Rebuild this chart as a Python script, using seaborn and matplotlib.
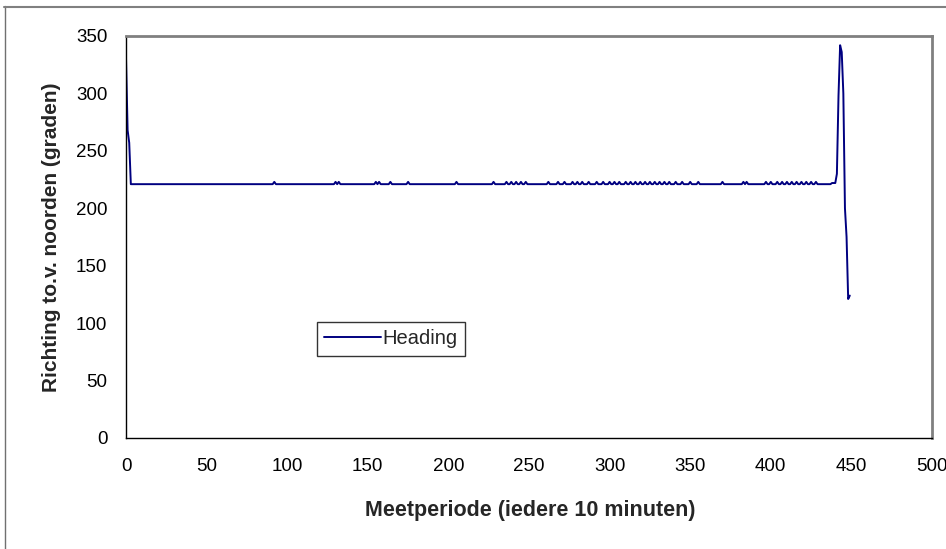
import matplotlib
matplotlib.use("Agg")
import matplotlib.pyplot as plt
import seaborn as sns
import pandas as pd
from matplotlib.lines import Line2D

# Vertices of the Heading line (Meetperiode index, heading in degrees)
start_x = [0, 1, 2, 3]
start_y = [331, 268, 257, 221]

# positions where heading briefly rises to ~223 above the 221 baseline
blip_x = [92, 130, 132, 155, 157, 164, 175, 205, 228, 236, 239, 242, 245, 248,
          262, 268, 272, 277, 280, 283, 287, 292, 296, 300, 303, 306, 310, 313,
          316, 319, 322, 325, 328, 331, 334, 337, 341, 345, 350, 355, 370, 383,
          385, 397, 400, 404, 407, 410, 413, 416, 419, 422, 425, 428]
baseline = 221
blip_value = 223

end_x = [437, 438, 440, 441, 442, 443, 444, 445, 446, 447, 448, 449]
end_y = [221, 222, 222, 230, 298, 342, 336, 300, 200, 175, 121, 124]

xs, ys = list(start_x), list(start_y)
for b in blip_x:
    xs += [b - 1, b, b + 1]
    ys += [baseline, blip_value, baseline]
xs += end_x
ys += end_y
df = pd.DataFrame({"Meetperiode": xs, "Heading": ys}).sort_values("Meetperiode", kind="stable")

sns.set_theme(style="white")
plt.rcParams["font.family"] = ["Liberation Sans", "DejaVu Sans"]

fig = plt.figure(figsize=(9.46, 5.49), dpi=100)
ax = fig.add_axes([126 / 946, 1 - 438 / 549, (932 - 126) / 946, (438 - 36) / 549])

sns.lineplot(data=df, x="Meetperiode", y="Heading", ax=ax, color="#000080",
             linewidth=1.4, label="Heading", sort=False, estimator=None)

ax.set_xlim(0, 500)
ax.set_ylim(0, 350)
ax.set_xticks(range(0, 501, 50))
ax.set_yticks(range(0, 351, 50))
ax.tick_params(axis="both", direction="inout", length=9, width=1, color="black",
               labelsize=13.5, labelcolor="black")
ax.tick_params(axis="x", pad=10)
ax.tick_params(axis="y", pad=9)

for s in ["left", "bottom"]:
    ax.spines[s].set_color("black")
    ax.spines[s].set_linewidth(1.0)
for s in ["top", "right"]:
    ax.spines[s].set_color("#808080")
    ax.spines[s].set_linewidth(2.0)

ax.set_xlabel("Meetperiode (iedere 10 minuten)", fontsize=15.5, fontweight="bold")
ax.set_ylabel("Richting to.v. noorden (graden)", fontsize=15, fontweight="bold")
ax.xaxis.set_label_coords((530 - 126) / 806, (438 - 500) / 402)
ax.yaxis.set_label_coords((61 - 126) / 806, 0.5)

leg = ax.legend(loc="center", bbox_to_anchor=((391 - 126) / 806, (438 - 339) / 402),
                frameon=True, fancybox=False, shadow=False, fontsize=14.5,
                handlelength=2.8, handletextpad=0.1, borderpad=0.35, borderaxespad=0)
leg.get_frame().set_edgecolor("black")
leg.get_frame().set_linewidth(1.0)
leg.get_frame().set_facecolor("white")

# outer chart-area frame (only top and left edges visible)
fig.add_artist(Line2D([4.5 / 946, 4.5 / 946], [0, 1 - 6 / 549], transform=fig.transFigure,
                      color="#707070", linewidth=1.0))
fig.add_artist(Line2D([4 / 946, 1], [1 - 6.5 / 549, 1 - 6.5 / 549], transform=fig.transFigure,
                      color="#808080", linewidth=1.5))

fig.savefig("out.png", dpi=100, facecolor="white")
